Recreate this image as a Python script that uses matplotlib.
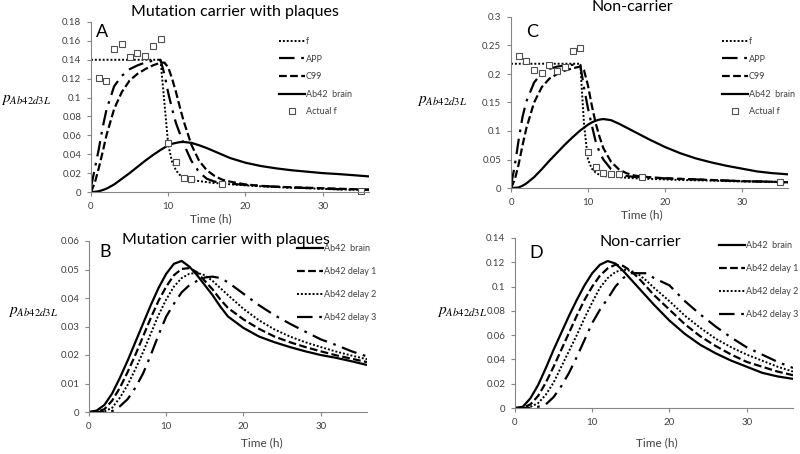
import matplotlib

matplotlib.use("Agg")
import matplotlib.pyplot as plt
from matplotlib.ticker import FuncFormatter, MultipleLocator

plt.rcParams["font.family"] = ["Lato", "DejaVu Sans"]
plt.rcParams["mathtext.fontset"] = "stix"

# time grids (h)
T_FINE = [0, 0.5, 1, 1.5, 2, 3, 4, 5, 6, 7, 8, 9, 9.5, 10, 10.5, 11, 11.5, 12,
          13, 14, 15, 16, 17, 18, 20, 22, 24, 26, 28, 30, 32, 34, 36]
T_COARSE = [0, 1, 2, 3, 4, 5, 6, 7, 8, 9, 10, 11, 12, 13, 14, 15, 16, 17, 18,
            20, 22, 24, 26, 28, 30, 32, 34, 36]

# panel A: mutation carrier with plaques
A_F = [0.14] * 12 + [0.095, 0.05, 0.032, 0.023, 0.018, 0.016, 0.013, 0.0115, 0.0105,
                     0.0095, 0.009, 0.0082, 0.007, 0.006, 0.0052, 0.0045, 0.004,
                     0.0033, 0.0028, 0.0024, 0.002]
A_APP = [0.005, 0.025, 0.045, 0.068, 0.087, 0.112, 0.123, 0.13, 0.134, 0.137, 0.139, 0.14,
         0.125, 0.105, 0.088, 0.073, 0.062, 0.051, 0.033, 0.021, 0.014, 0.011, 0.0095,
         0.0088, 0.0075, 0.0065, 0.0056, 0.0048, 0.0042, 0.0036, 0.003, 0.0026, 0.0022]
A_C99 = [0, 0.01, 0.025, 0.042, 0.06, 0.088, 0.106, 0.118, 0.125, 0.13, 0.134, 0.137,
         0.137, 0.132, 0.12, 0.106, 0.09, 0.075, 0.05, 0.033, 0.023, 0.017, 0.013,
         0.011, 0.008, 0.0065, 0.0055, 0.005, 0.0045, 0.004, 0.0035, 0.003, 0.0027]
A_BRAIN = [0, 0.0002, 0.0008, 0.002, 0.0035, 0.008, 0.014, 0.02, 0.0265, 0.033, 0.039,
           0.0445, 0.047, 0.0495, 0.051, 0.052, 0.0528, 0.053, 0.052, 0.0495, 0.0465,
           0.043, 0.0395, 0.036, 0.031, 0.0275, 0.025, 0.023, 0.0215, 0.02, 0.019,
           0.0178, 0.0165]
A_ACT_T = [1, 2, 3, 4, 5, 6, 7, 8, 9, 10, 11, 12, 13, 17, 35]
A_ACT = [0.121, 0.117, 0.151, 0.157, 0.143, 0.147, 0.144, 0.155, 0.162, 0.052, 0.032,
         0.015, 0.014, 0.009, 0.0015]

# panel C: non-carrier
C_F = [0.218] * 12 + [0.11, 0.05, 0.034, 0.027, 0.023, 0.021, 0.0195, 0.019, 0.018,
                      0.017, 0.0165, 0.016, 0.015, 0.014, 0.0135, 0.013, 0.012,
                      0.0115, 0.011, 0.0105, 0.01]
C_APP = [0.005, 0.04, 0.085, 0.125, 0.152, 0.185, 0.202, 0.209, 0.213, 0.215, 0.216, 0.216,
         0.175, 0.14, 0.11, 0.082, 0.063, 0.05, 0.033, 0.025, 0.021, 0.0195, 0.0185,
         0.018, 0.017, 0.016, 0.015, 0.014, 0.013, 0.012, 0.0115, 0.011, 0.01]
C_C99 = [0, 0.015, 0.042, 0.075, 0.105, 0.15, 0.177, 0.192, 0.2, 0.206, 0.21, 0.213,
         0.206, 0.18, 0.145, 0.114, 0.09, 0.07, 0.046, 0.033, 0.026, 0.022, 0.02,
         0.019, 0.017, 0.016, 0.015, 0.014, 0.013, 0.012, 0.0115, 0.011, 0.01]
C_BRAIN = [0, 0.0003, 0.001, 0.004, 0.008, 0.019, 0.033, 0.048, 0.062, 0.076, 0.089,
           0.101, 0.106, 0.111, 0.115, 0.118, 0.12, 0.121, 0.119, 0.113, 0.106, 0.099,
           0.092, 0.085, 0.072, 0.061, 0.052, 0.045, 0.039, 0.034, 0.029, 0.026, 0.024]
C_ACT_T = [1, 2, 3, 4, 5, 6, 7, 8, 9, 10, 11, 12, 13, 14, 17, 35]
C_ACT = [0.231, 0.223, 0.207, 0.202, 0.216, 0.205, 0.212, 0.241, 0.246, 0.0626, 0.036,
         0.026, 0.0246, 0.0246, 0.019, 0.01]

# panel B: delays, mutation carrier
B_BRAIN = [0, 0.0005, 0.0025, 0.0065, 0.012, 0.018, 0.0245, 0.031, 0.0375, 0.0435,
           0.0485, 0.052, 0.053, 0.051, 0.048, 0.0445, 0.041, 0.037, 0.0335,
           0.0295, 0.0265, 0.0245, 0.0228, 0.0213, 0.02, 0.019, 0.0178, 0.0165]
B_D1 = [0, 0, 0.001, 0.004, 0.0085, 0.014, 0.02, 0.0265, 0.033, 0.039, 0.044, 0.048,
        0.0502, 0.0505, 0.049, 0.046, 0.043, 0.0395, 0.0365,
        0.0325, 0.0292, 0.0265, 0.0245, 0.0228, 0.0213, 0.0199, 0.0187, 0.0175]
B_D2 = [0, 0, 0.0002, 0.0015, 0.005, 0.0095, 0.015, 0.021, 0.0275, 0.034, 0.0395, 0.044,
        0.047, 0.0485, 0.0488, 0.048, 0.046, 0.0435, 0.041,
        0.0362, 0.0322, 0.029, 0.0265, 0.0245, 0.0228, 0.0212, 0.0198, 0.0185]
B_D3 = [0, 0, 0, 0.0003, 0.002, 0.0045, 0.0085, 0.0135, 0.02, 0.027, 0.0335, 0.038,
        0.042, 0.0445, 0.046, 0.0472, 0.0475, 0.047, 0.0455,
        0.0415, 0.0375, 0.034, 0.031, 0.0282, 0.0255, 0.0235, 0.0213, 0.0195]

# panel D: delays, non-carrier
D_BRAIN = [0, 0.001, 0.008, 0.019, 0.033, 0.048, 0.062, 0.076, 0.089, 0.101, 0.111,
           0.118, 0.121, 0.119, 0.113, 0.106, 0.099, 0.092, 0.085,
           0.072, 0.061, 0.052, 0.045, 0.039, 0.034, 0.029, 0.026, 0.024]
D_D1 = [0, 0, 0.003, 0.01, 0.021, 0.034, 0.048, 0.062, 0.076, 0.089, 0.1, 0.109, 0.115,
        0.118, 0.117, 0.113, 0.107, 0.1, 0.093,
        0.081, 0.069, 0.059, 0.051, 0.044, 0.038, 0.034, 0.03, 0.027]
D_D2 = [0, 0, 0.001, 0.004, 0.011, 0.021, 0.034, 0.047, 0.06, 0.074, 0.087, 0.099, 0.107,
        0.112, 0.114, 0.113, 0.11, 0.105, 0.099,
        0.088, 0.076, 0.066, 0.057, 0.05, 0.044, 0.039, 0.034, 0.03]
D_D3 = [0, 0, 0, 0.001, 0.003, 0.009, 0.018, 0.029, 0.042, 0.056, 0.07, 0.081, 0.09,
        0.1, 0.107, 0.111, 0.111, 0.111, 0.107,
        0.101, 0.088, 0.077, 0.067, 0.058, 0.05, 0.044, 0.038, 0.033]

DOT = (0, (1, 1))
DASH = (0, (3.5, 1.5))
DASHDOT = (0, (7, 3, 1.2, 3))
GREY = "#868686"
TEXT = "#404040"
W, H = 800, 454


def _axes(fig, left, top, right, bottom, ymax, ystep):
    ax = fig.add_axes([left / W, 1 - bottom / H, (right - left) / W, (bottom - top) / H])
    ax.set_xlim(0, 36)
    ax.set_ylim(0, ymax)
    ax.xaxis.set_major_locator(MultipleLocator(10))
    ax.yaxis.set_major_locator(MultipleLocator(ystep))
    ax.yaxis.set_major_formatter(FuncFormatter(lambda v, _: f"{round(v, 4):g}"))
    for side in ("top", "right"):
        ax.spines[side].set_visible(False)
    for side in ("left", "bottom"):
        ax.spines[side].set_color(GREY)
        ax.spines[side].set_linewidth(0.8)
    ax.tick_params(length=3, width=0.8, color=GREY, labelsize=7, labelcolor=TEXT, pad=4)
    return ax


def _decor(fig, letter, lx, ly, title, tx, ty, ylab_x, ylab_y, xlab_x, xlab_y):
    fig.text(lx / W, 1 - ly / H, letter, fontsize=13, va="center", ha="left")
    fig.text(tx / W, 1 - ty / H, title, fontsize=11.5, va="center", ha="center")
    fig.text(ylab_x / W, 1 - ylab_y / H, r"$p_{Ab42d3L}$", fontsize=11, va="center", ha="left")
    fig.text(xlab_x / W, 1 - xlab_y / H, "Time (h)", fontsize=8.5, va="center",
             ha="center", color=TEXT)


def _legend(fig, ax, x, y, spacing):
    ax.legend(loc="upper left", bbox_to_anchor=(x / W, 1 - y / H),
              bbox_transform=fig.transFigure, frameon=False, fontsize=6.5,
              handlelength=2.9, handletextpad=0.1, labelspacing=spacing,
              borderpad=0, borderaxespad=0, labelcolor=TEXT)


def _top_panel(fig, rect, ymax, ystep, f, app, c99, brain, act_t, act):
    ax = _axes(fig, *rect, ymax, ystep)
    ax.plot(T_FINE, f, color="black", lw=1.4, ls=DOT, label="f")
    ax.plot(T_FINE, app, color="black", lw=1.6, ls=DASHDOT, label="APP")
    ax.plot(T_FINE, c99, color="black", lw=1.6, ls=DASH, label="C99")
    ax.plot(T_FINE, brain, color="black", lw=1.6, label="Ab42  brain")
    ax.plot(act_t, act, ls="none", marker="s", ms=4.2, mfc="white", mec="#505050",
            mew=0.8, label="Actual f", clip_on=False)
    return ax


def _bottom_panel(fig, rect, ymax, ystep, brain, d1, d2, d3):
    ax = _axes(fig, *rect, ymax, ystep)
    ax.plot(T_COARSE, brain, color="black", lw=1.6, label="Ab42  brain")
    ax.plot(T_COARSE, d1, color="black", lw=1.6, ls=DASH, label="Ab42 delay 1")
    ax.plot(T_COARSE, d2, color="black", lw=1.4, ls=DOT, label="Ab42 delay 2")
    ax.plot(T_COARSE, d3, color="black", lw=1.6, ls=DASHDOT, label="Ab42 delay 3")
    return ax


fig = plt.figure(figsize=(8, 4.54), dpi=100)

ax = _top_panel(fig, (91, 22, 369, 192), 0.18, 0.02, A_F, A_APP, A_C99, A_BRAIN, A_ACT_T, A_ACT)
_legend(fig, ax, 279, 37, 0.95)
_decor(fig, "A", 96, 32, "Mutation carrier with plaques", 235, 12, 1, 100, 211, 219)

ax = _top_panel(fig, (511, 17, 788, 188), 0.3, 0.05, C_F, C_APP, C_C99, C_BRAIN, C_ACT_T, C_ACT)
_legend(fig, ax, 722, 37, 0.95)
_decor(fig, "C", 526, 32, "Non-carrier", 632, 7, 417, 101, 642, 215)

ax = _bottom_panel(fig, (89, 241, 367, 412), 0.06, 0.01, B_BRAIN, B_D1, B_D2, B_D3)
_legend(fig, ax, 297, 244, 1.55)
_decor(fig, "B", 99, 252, "Mutation carrier with plaques", 226, 240, 8, 312, 262, 443)

ax = _bottom_panel(fig, (515, 238, 793, 408), 0.14, 0.02, D_BRAIN, D_D1, D_D2, D_D3)
_legend(fig, ax, 719, 241, 1.55)
_decor(fig, "D", 529, 253, "Non-carrier", 640, 242, 437, 312, 657, 443)

fig.savefig("out.png", dpi=100)
plt.close(fig)
